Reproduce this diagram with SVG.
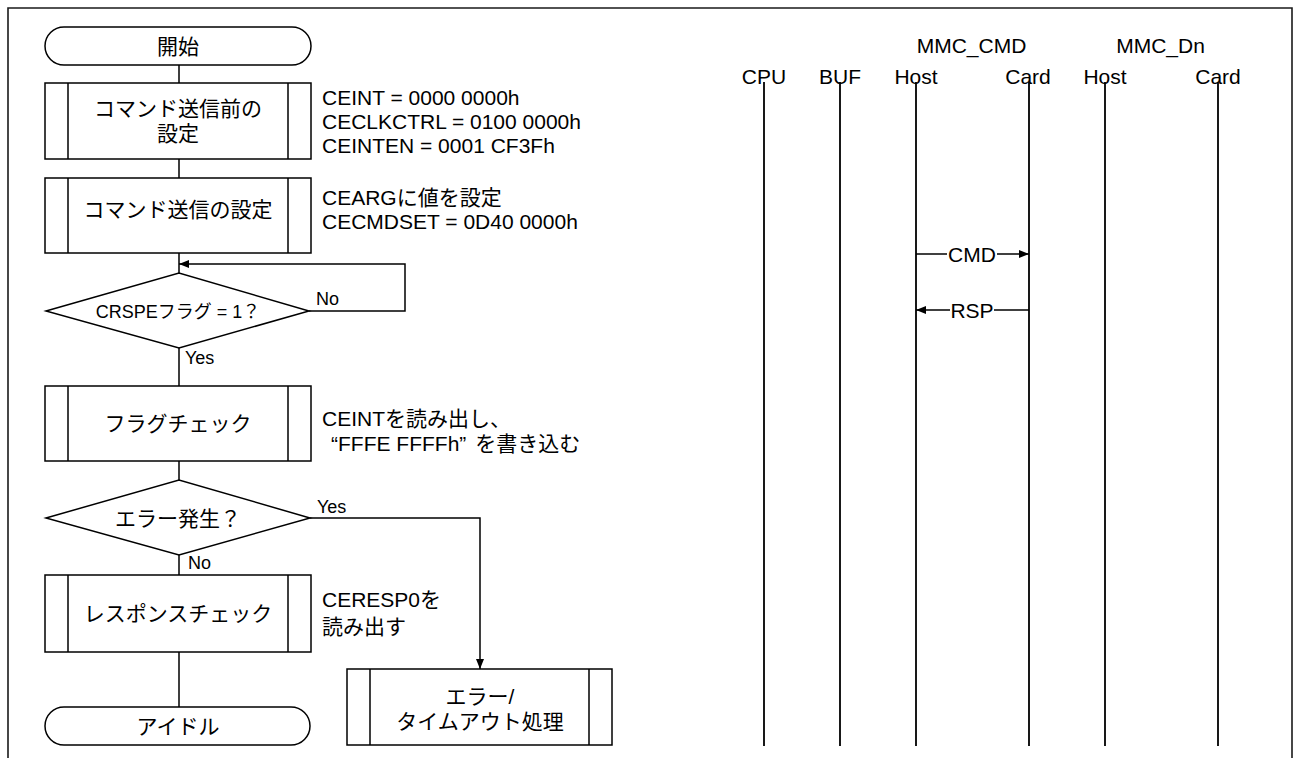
<svg xmlns="http://www.w3.org/2000/svg" width="1293" height="758" viewBox="0 0 1293 758">
<defs>
<marker id="ah" viewBox="0 0 10 8" refX="10" refY="4" markerWidth="10" markerHeight="8" markerUnits="userSpaceOnUse" orient="auto">
<path d="M0,0 L10,4 L0,8 Z" fill="#000"/>
</marker>
<style>
.t{font-family:"Liberation Sans","Noto Sans CJK JP",sans-serif;font-size:21px;fill:#000}
.s{font-size:18px}
.c{text-anchor:middle}
.sh{fill:#fff;stroke:#000;stroke-width:1.5}
.ln{fill:none;stroke:#000;stroke-width:1.5}
.ll{fill:none;stroke:#000;stroke-width:1.8}
.fr{fill:none;stroke:#1a1a1a;stroke-width:1.6}
</style>
</defs>
<rect width="1293" height="758" fill="#fff"/>
<path class="fr" d="M8,758 V8 H1292 V758"/>

<g id="connectors">
<path class="ln" d="M179,65 V83 M179,159 V178 M179,253 V273 M179,348 V386 M179,461 V480 M179,555 V575 M179,652 V707"/>
<path class="ln" d="M309,311 H405 V264 H179" marker-end="url(#ah)"/>
<path class="ln" d="M310,518 H480 V669" marker-end="url(#ah)"/>
<text class="t s" x="316" y="305">No</text>
<text class="t s" x="185" y="364">Yes</text>
<text class="t s" x="317" y="513">Yes</text>
<text class="t s" x="188" y="569">No</text>
</g>

<g id="start">
<rect class="sh" x="45" y="27" width="266" height="38" rx="19"/>
<text class="t c" x="178" y="53.5">開始</text>
</g>

<g id="box1">
<rect class="sh" x="45" y="83" width="266" height="76"/>
<path class="ln" d="M68,83 V159 M288,83 V159"/>
<text class="t c" x="178" y="116">コマンド送信前の</text>
<text class="t c" x="178" y="141">設定</text>
<text class="t" x="322" y="105">CEINT = 0000 0000h</text>
<text class="t" x="322" y="129">CECLKCTRL = 0100 0000h</text>
<text class="t" x="322" y="153">CEINTEN = 0001 CF3Fh</text>
</g>

<g id="box2">
<rect class="sh" x="45" y="178" width="266" height="75"/>
<path class="ln" d="M68,178 V253 M288,178 V253"/>
<text class="t c" x="178" y="217">コマンド送信の設定</text>
<text class="t" x="322" y="205">CEARGに値を設定</text>
<text class="t" x="322" y="229">CECMDSET = 0D40 0000h</text>
</g>

<g id="decision1">
<polygon class="sh" points="46,311 179,273 309,311 179,348"/>
<text class="t s c" x="178" y="317.5">CRSPEフラグ = 1？</text>
</g>

<g id="box3">
<rect class="sh" x="45" y="386" width="266" height="75"/>
<path class="ln" d="M68,386 V461 M288,386 V461"/>
<text class="t c" x="178" y="431">フラグチェック</text>
<text class="t" x="322" y="426">CEINTを読み出し、</text>
<text class="t" x="331" y="451">“FFFE FFFFh”<tspan dx="9">を書き込む</tspan></text>
</g>

<g id="decision2">
<polygon class="sh" points="46,518 179,480 310,518 179,555"/>
<text class="t c" x="178" y="525.5">エラー発生？</text>
</g>

<g id="box4">
<rect class="sh" x="45" y="575" width="266" height="77"/>
<path class="ln" d="M68,575 V652 M288,575 V652"/>
<text class="t c" x="178" y="621">レスポンスチェック</text>
<text class="t" x="322" y="607">CERESP0を</text>
<text class="t" x="322" y="634">読み出す</text>
</g>

<g id="idle">
<rect class="sh" x="45" y="707" width="265" height="38" rx="19"/>
<text class="t c" x="178" y="733.5">アイドル</text>
</g>

<g id="error">
<rect class="sh" x="347" y="669" width="265" height="76"/>
<path class="ln" d="M370,669 V745 M589,669 V745"/>
<text class="t c" x="480" y="704">エラー/</text>
<text class="t c" x="480" y="729">タイムアウト処理</text>
</g>

<g id="lifelines">
<text class="t c" x="971.5" y="53">MMC_CMD</text>
<text class="t c" x="1160.5" y="53">MMC_Dn</text>
<text class="t c" x="764" y="84">CPU</text>
<text class="t c" x="840" y="84">BUF</text>
<text class="t c" x="916" y="84">Host</text>
<text class="t c" x="1028" y="84">Card</text>
<text class="t c" x="1105" y="84">Host</text>
<text class="t c" x="1218" y="84">Card</text>
<path class="ll" d="M764,82 V746 M840,82 V746 M916,82 V746 M1029,82 V746 M1105,82 V746 M1218,82 V746"/>
</g>

<g id="messages">
<path class="ln" d="M916,254 H947"/>
<path class="ln" d="M997,254 H1029" marker-end="url(#ah)"/>
<text class="t c" x="972" y="261.5">CMD</text>
<path class="ln" d="M1029,310 H994"/>
<path class="ln" d="M950,310 H916" marker-end="url(#ah)"/>
<text class="t c" x="972" y="317.5">RSP</text>
</g>
</svg>
